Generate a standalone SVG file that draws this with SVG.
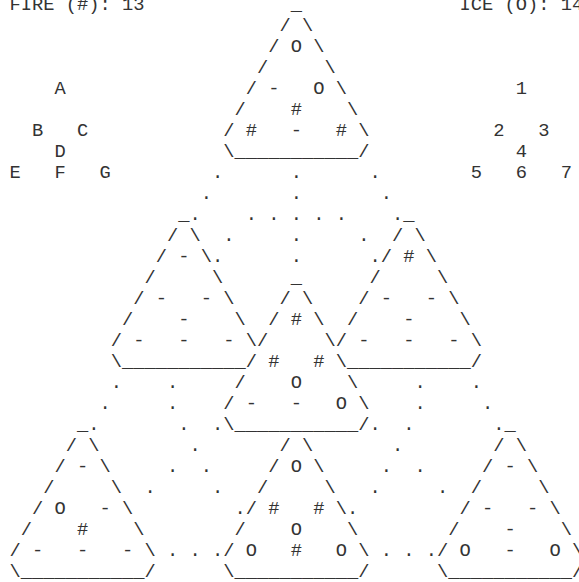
<svg xmlns="http://www.w3.org/2000/svg" width="579" height="582" viewBox="0 0 579 582" xml:space="preserve">
<style>
text{font-family:"Liberation Mono","DejaVu Sans Mono",monospace;font-size:18.75px;fill:#333;white-space:pre}
</style>
<rect width="579" height="582" fill="#fff"/>
<g id="counts">
<text x="9.4" y="9.5">FIRE (#): 13</text>
<text x="459.4" y="9.5">ICE (O): 14</text>
</g>
<g id="legend-letters">
<text x="54.4" y="93.5">A</text>
<text x="31.9" y="135.5">B   C</text>
<text x="54.4" y="156.5">D</text>
<text x="9.4" y="177.5">E   F   G</text>
</g>
<g id="legend-numbers">
<text x="515.65" y="93.5">1</text>
<text x="493.15" y="135.5">2   3</text>
<text x="515.65" y="156.5">4</text>
<text x="470.65" y="177.5">5   6   7</text>
</g>
<g id="tri-top">
<text x="290.65" y="9.5">_</text>
<text x="279.4" y="30.5">/ \</text>
<text x="268.15" y="51.5">/ O \</text>
<text x="256.9" y="72.5">/     \</text>
<text x="245.65" y="93.5">/ -   O \</text>
<text x="234.4" y="114.5">/    #    \</text>
<text x="223.15" y="135.5">/ #   -   # \</text>
<text x="223.15" y="156.5">\___________/</text>
</g>
<g id="tri-mid-left">
<text x="178.15" y="219.5">_</text>
<text x="166.9" y="240.5">/ \</text>
<text x="155.65" y="261.5">/ - \</text>
<text x="144.4" y="282.5">/     \</text>
<text x="133.15" y="303.5">/ -   - \</text>
<text x="121.9" y="324.5">/    -    \</text>
<text x="110.65" y="345.5">/ -   -   - \</text>
<text x="110.65" y="366.5">\___________/</text>
</g>
<g id="tri-mid-right">
<text x="403.15" y="219.5">_</text>
<text x="391.9" y="240.5">/ \</text>
<text x="380.65" y="261.5">/ # \</text>
<text x="369.4" y="282.5">/     \</text>
<text x="358.15" y="303.5">/ -   - \</text>
<text x="346.9" y="324.5">/    -    \</text>
<text x="335.65" y="345.5">/ -   -   - \</text>
<text x="335.65" y="366.5">\___________/</text>
</g>
<g id="tri-center">
<text x="290.65" y="282.5">_</text>
<text x="279.4" y="303.5">/ \</text>
<text x="268.15" y="324.5">/ # \</text>
<text x="256.9" y="345.5">/     \</text>
<text x="268.15" y="366.5">#   #</text>
<text x="234.4" y="387.5">/    O    \</text>
<text x="223.15" y="408.5">/ -   -   O \</text>
<text x="223.15" y="429.5">\___________/</text>
</g>
<g id="tri-bottom-left">
<text x="76.9" y="429.5">_</text>
<text x="65.65" y="450.5">/ \</text>
<text x="54.4" y="471.5">/ - \</text>
<text x="43.15" y="492.5">/     \</text>
<text x="31.9" y="513.5">/ O   - \</text>
<text x="20.65" y="534.5">/    #    \</text>
<text x="9.4" y="555.5">/ -   -   - \</text>
<text x="9.4" y="576.5">\___________/</text>
</g>
<g id="tri-bottom-middle">
<text x="279.4" y="450.5">/ \</text>
<text x="268.15" y="471.5">/ O \</text>
<text x="256.9" y="492.5">/     \</text>
<text x="245.65" y="513.5">/ #   # \</text>
<text x="234.4" y="534.5">/    O    \</text>
<text x="223.15" y="555.5">/ O   #   O \</text>
<text x="223.15" y="576.5">\___________/</text>
</g>
<g id="tri-bottom-right">
<text x="504.4" y="429.5">_</text>
<text x="493.15" y="450.5">/ \</text>
<text x="481.9" y="471.5">/ - \</text>
<text x="470.65" y="492.5">/     \</text>
<text x="459.4" y="513.5">/ -   - \</text>
<text x="448.15" y="534.5">/    -    \</text>
<text x="436.9" y="555.5">/ O   -   O \</text>
<text x="436.9" y="576.5">\___________/</text>
</g>
<g id="connectors">
<text x="211.9" y="177.5">.      .      .</text>
<text x="200.65" y="198.5">.       .       .</text>
<text x="189.4" y="219.5">.    . . . . .    .</text>
<text x="223.15" y="240.5">.     .     .</text>
<text x="211.9" y="261.5">.      .      .</text>
<text x="110.65" y="387.5">.    .</text>
<text x="414.4" y="387.5">.    .</text>
<text x="99.4" y="408.5">.     .</text>
<text x="414.4" y="408.5">.     .</text>
<text x="88.15" y="429.5">.       .  .</text>
<text x="369.4" y="429.5">.  .       .</text>
<text x="189.4" y="450.5">.</text>
<text x="391.9" y="450.5">.</text>
<text x="166.9" y="471.5">.  .</text>
<text x="380.65" y="471.5">.  .</text>
<text x="144.4" y="492.5">.     .</text>
<text x="369.4" y="492.5">.     .</text>
<text x="234.4" y="513.5">.</text>
<text x="346.9" y="513.5">.</text>
<text x="166.9" y="555.5">. . .</text>
<text x="380.65" y="555.5">. . .</text>
</g>
</svg>
